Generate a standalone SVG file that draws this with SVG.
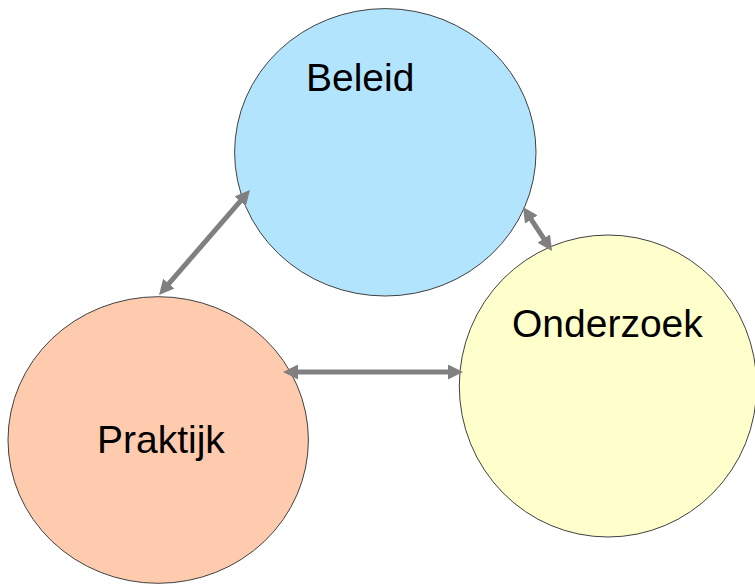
<svg xmlns="http://www.w3.org/2000/svg" width="755" height="586" viewBox="0 0 755 586">
  <style>
    .node { stroke: #404040; stroke-width: 1; }
    .label { font-family: "Liberation Sans", Arial, sans-serif; font-size: 39px; fill: #000; }
    .conn { stroke: #808080; stroke-width: 5; fill: none; }
  </style>
  <defs>
    <marker id="arrow" viewBox="0 0 15 15" refX="1" refY="7.5" markerWidth="15" markerHeight="15" markerUnits="userSpaceOnUse" orient="auto-start-reverse">
      <path d="M0,0 L15,7.5 L0,15 Z" fill="#808080"/>
    </marker>
  </defs>
  <rect width="755" height="586" fill="#ffffff"/>
  <g id="beleid">
    <ellipse class="node" cx="385.3" cy="152.3" rx="150.7" ry="143.7" fill="#B2E4FD"/>
    <text class="label" x="306" y="91">Beleid</text>
  </g>
  <g id="praktijk">
    <ellipse class="node" cx="158.2" cy="440" rx="150.2" ry="143.3" fill="#FFCBAF"/>
    <text class="label" x="97" y="453">Praktijk</text>
  </g>
  <g id="onderzoek">
    <ellipse class="node" cx="608" cy="386" rx="148.7" ry="151" fill="#FFFFCC"/>
    <text class="label" x="512" y="337">Onderzoek</text>
  </g>
  <g id="connectors">
    <line class="conn" x1="240.8" y1="200.6" x2="168.2" y2="284.4" marker-start="url(#arrow)" marker-end="url(#arrow)"/>
    <line class="conn" x1="530.7" y1="218.7" x2="544.3" y2="239.3" marker-start="url(#arrow)" marker-end="url(#arrow)"/>
    <line class="conn" x1="297" y1="372" x2="449" y2="372" marker-start="url(#arrow)" marker-end="url(#arrow)"/>
  </g>
</svg>
